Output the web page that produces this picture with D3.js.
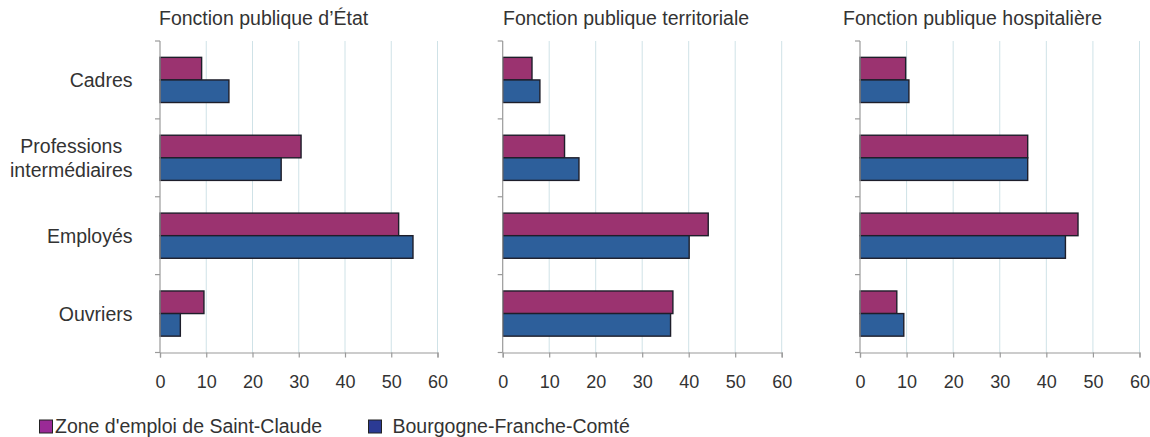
<!DOCTYPE html>
<html>
<head>
<meta charset="utf-8">
<script src="https://cdn.jsdelivr.net/npm/d3@7"></script>
<style>
  html, body { margin: 0; padding: 0; background: #fff; }
  svg { display: block; font-family: "Liberation Sans", Arial, sans-serif; }
</style>
</head>
<body>
<svg id="chart" width="1150" height="437"></svg>
<script>
// ---- data ----
const categories = ["Cadres", "Professions intermédiaires", "Employés", "Ouvriers"];
const categoryLines = [["Cadres"], ["Professions", "intermédiaires"], ["Employés"], ["Ouvriers"]];
const seriesNames = ["Zone d'emploi de Saint-Claude", "Bourgogne-Franche-Comté"];
const panelTitles = ["Fonction publique d’État", "Fonction publique territoriale", "Fonction publique hospitalière"];
// values per panel, in category order
const etatSaintClaude = [9.0, 30.5, 51.6, 9.5];
const etatBFC = [14.9, 26.2, 54.7, 4.4];
const territorialeSaintClaude = [6.3, 13.3, 44.2, 36.6];
const territorialeBFC = [8.0, 16.4, 40.1, 36.1];
const hospitaliereSaintClaude = [9.8, 36.0, 46.8, 7.9];
const hospitaliereBFC = [10.5, 36.0, 44.1, 9.4];
const xTicks = [0, 10, 20, 30, 40, 50, 60];

const panels = [
  { title: panelTitles[0], a: etatSaintClaude, b: etatBFC },
  { title: panelTitles[1], a: territorialeSaintClaude, b: territorialeBFC },
  { title: panelTitles[2], a: hospitaliereSaintClaude, b: hospitaliereBFC }
];

// ---- layout ----
const colors = ["#9b3370", "#2d5f9b"];
const legendColors = ["#9a2a96", "#2b3a94"];
const plotX = [[160, 437.5], [502.7, 781.7], [860, 1139.5]];
const titleX = [159, 503, 843];
const plotTop = 41, plotBottom = 352.5;
const textColor = "#333";
const axisColor = "#9a9a9a";
const gridColor = "#cfe2e7";

const svg = d3.select("#chart");

const y = d3.scaleBand().domain(categories).range([plotTop, plotBottom])
  .paddingInner(0.42).paddingOuter(0.21);
const ySub = d3.scaleBand().domain([0, 1]).range([0, y.bandwidth()]);
const step = (plotBottom - plotTop) / categories.length;

panels.forEach((p, pi) => {
  const x = d3.scaleLinear().domain([0, 60]).range(plotX[pi]);
  const g = svg.append("g");

  // gridlines
  g.selectAll("line.grid").data(xTicks.slice(1)).join("line")
    .attr("x1", d => x(d)).attr("x2", d => x(d))
    .attr("y1", plotTop).attr("y2", plotBottom)
    .attr("stroke", gridColor).attr("stroke-width", 1);

  // bars
  const rows = categories.map((c, i) => ({ c, vals: [p.a[i], p.b[i]] }));
  rows.forEach(r => {
    r.vals.forEach((v, si) => {
      g.append("rect")
        .attr("x", x(0))
        .attr("y", y(r.c) + ySub(si))
        .attr("width", x(v) - x(0))
        .attr("height", ySub.bandwidth())
        .attr("fill", colors[si])
        .attr("stroke", "#1e1e2a")
        .attr("stroke-width", 1.4);
    });
  });

  // left axis line + boundary ticks
  g.append("line").attr("x1", x(0)).attr("x2", x(0)).attr("y1", plotTop).attr("y2", plotBottom)
    .attr("stroke", axisColor).attr("stroke-width", 1.2);
  const bounds = d3.range(categories.length + 1).map(i => plotTop + i * step);
  g.selectAll("line.ytick").data(bounds).join("line")
    .attr("x1", x(0) - 5).attr("x2", x(0))
    .attr("y1", d => d).attr("y2", d => d)
    .attr("stroke", axisColor).attr("stroke-width", 1.2);

  // bottom axis
  const xAxis = d3.axisBottom(x).tickValues(xTicks).tickSize(5).tickPadding(18);
  const ax = g.append("g").attr("transform", `translate(0,${plotBottom})`).call(xAxis);
  ax.select(".domain").attr("stroke", axisColor).attr("stroke-width", 1.2);
  ax.selectAll(".tick line").attr("stroke", axisColor).attr("stroke-width", 1.2);
  ax.selectAll(".tick text")
    .attr("fill", textColor)
    .style("font-size", "18px")
    .style("font-family", "'Liberation Sans', Arial, sans-serif");

  // title
  svg.append("text").attr("x", titleX[pi]).attr("y", 25)
    .attr("fill", textColor).style("font-size", "19.5px").text(p.title);
});

// category labels (left of first panel)
const labelRight = 132.5;
categoryLines.forEach((lines, i) => {
  const cy = y(categories[i]) + y.bandwidth() / 2;
  const lh = 24.5;
  const t = svg.append("text").attr("fill", textColor).style("font-size", "19.5px")
    .attr("text-anchor", "middle");
  const spans = lines.map((ln, li) => t.append("tspan")
    .attr("y", cy + 7 + (li - (lines.length - 1) / 2) * lh).text(ln));
  const maxW = d3.max(spans, s => s.node().getComputedTextLength());
  spans.forEach(s => s.attr("x", labelRight - maxW / 2));
});

// legend
const legendItems = [
  { sq: 39.5, tx: 55, name: seriesNames[0], c: legendColors[0] },
  { sq: 368.5, tx: 392.5, name: seriesNames[1], c: legendColors[1] }
];
legendItems.forEach(it => {
  svg.append("rect").attr("x", it.sq).attr("y", 420).attr("width", 13).attr("height", 13)
    .attr("fill", it.c).attr("stroke", "#222").attr("stroke-width", 1);
  svg.append("text").attr("x", it.tx).attr("y", 433).attr("fill", textColor)
    .style("font-size", "19.5px").text(it.name);
});
</script>
</body>
</html>
